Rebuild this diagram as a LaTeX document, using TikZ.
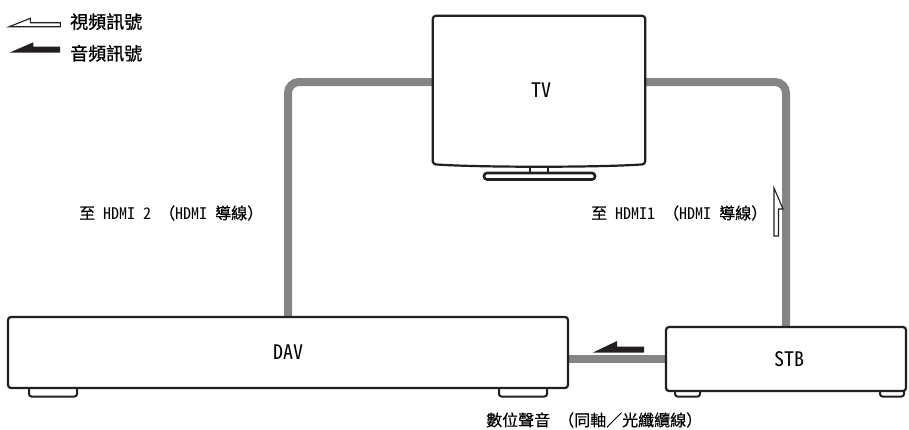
\documentclass[tikz,border=0pt]{standalone}
\usepackage{fontspec}
\setmainfont{Noto Sans CJK TC}
\newfontfamily\hw{Noto Sans CJK TC}[RawFeature={+hwid}]
\usetikzlibrary{calc}
\pgfdeclarelayer{bg}
\pgfsetlayers{bg,main}
\definecolor{cablegrey}{RGB}{133,133,133}
\definecolor{ink}{RGB}{35,31,32}
\begin{document}
\begin{tikzpicture}[x=1pt,y=-1pt,
  outline/.style={draw=ink, line width=2.2pt, fill=white},
  device/.style={outline, rounded corners=3pt, inner sep=0pt, font=\hw\fontsize{20}{20}\selectfont},
  cable/.style={draw=cablegrey, line width=8pt, rounded corners=11pt},
  foot/.style={draw=ink, line width=2pt, fill=white, rounded corners=2.5pt},
  lbl/.style={inner sep=0pt, anchor=west, font=\fontsize{16}{16}\selectfont\addfontfeatures{FakeBold=0.4}},
  legendtxt/.style={inner sep=0pt, anchor=west, font=\fontsize{18}{18}\selectfont\addfontfeatures{FakeBold=1}},
  sigline/.style={draw=ink, line width=1.1pt, fill=white, line join=miter},
  sigfill/.style={fill=ink}
]
\useasboundingbox (0,0) rectangle (909,429);

% legend
\draw[sigline] (9.3,26.7) -- ++(21,-8.4) -- ++(0,4.4) -- ++(30,0) -- ++(0,4) -- cycle;
\node[legendtxt] (lv) at (70,21.7) {視頻訊號};
\fill[sigfill] (9.3,52.7) -- ++(24,-10.4) -- ++(0,4.4) -- ++(26.7,0) -- ++(0,6) -- cycle;
\node[legendtxt] (la) at (70,53.3) {音頻訊號};

% TV stand
\draw[outline] (530,160) -- (530,174) -- (548,174) -- (548,160);
\draw[draw=ink, line width=2.6pt, fill=white, rounded corners=3pt] (484,173) rectangle (595,179.5);
% TV
\node[inner sep=0pt, minimum width=212pt, minimum height=148pt] (tv) at (539,90) {};
\path[outline, rounded corners=3pt] (tv.south west) -- (tv.north west) -- (tv.north east) -- (tv.south east)
  .. controls (600,167.5) and (478,167.5) .. (tv.south west) -- cycle;
\node[inner sep=0pt, font=\hw\fontsize{20}{20}\selectfont] (tvtext) at ([xshift=2pt]tv.center) {TV};

% feet
\draw[foot] (29,386) -- (29,396.5) -- (77,396.5) -- (77,386);
\draw[foot] (499,386) -- (499,396.5) -- (547,396.5) -- (547,386);
\draw[foot] (675,389) -- (675,396.5) -- (700,396.5) -- (700,389);
\draw[foot] (880,389) -- (880,396.5) -- (904,396.5) -- (904,389);

% devices
\node[device, minimum width=560pt, minimum height=71pt] (dav) at (288,352.5) {DAV};
\node[device, minimum width=240pt, minimum height=64pt] (stb) at (786,359) {\hspace*{6pt}STB};

% cables
\begin{pgfonlayer}{bg}
\draw[cable] ([yshift=8pt]tv.west) -| (dav.north);
\draw[cable] ([yshift=8pt]tv.east) -| (stb.north);
\draw[cable, rounded corners=0pt] (stb.west) -- (stb.west -| dav.east);
\end{pgfonlayer}

% signal arrows
\draw[sigline] (774,188) -- ++(9,21) -- ++(-4.5,0) -- ++(0,27) -- ++(-4.5,0) -- cycle;
\fill[sigfill] (593,352.5) -- ++(24,-11.5) -- ++(0,5.7) -- ++(27,0) -- ++(0,5.8) -- cycle;

% labels
\node[lbl] (l1) at (79,213) {至{\hw\ HDMI 2 }（{\hw HDMI }導線）};
\node[lbl] (l2) at (591,213) {至{\hw\ HDMI1 }（{\hw HDMI }導線）};
\node[lbl] (l3) at (486,420) {數位聲音{\hw\ }（同軸／光纖纜線）};
\end{tikzpicture}
\end{document}
